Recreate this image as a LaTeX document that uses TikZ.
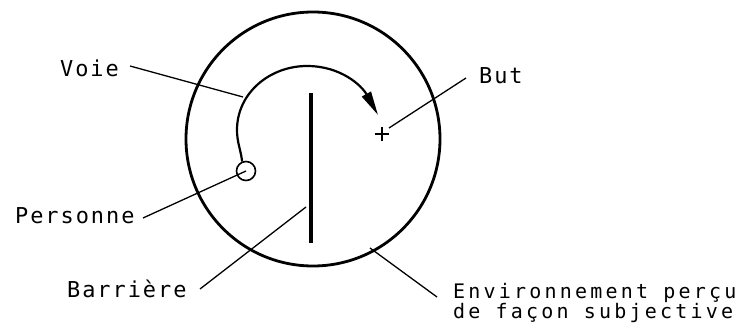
\documentclass[tikz,border=0pt]{standalone}
\usepackage{fontspec}
\newfontfamily\plotA[LetterSpace=9]{DejaVu Sans Mono}
\newfontfamily\plotB[LetterSpace=16]{DejaVu Sans Mono}
\usetikzlibrary{arrows.meta,calc}
\tikzset{
  lblA/.style={inner sep=0pt, anchor=base west, font=\plotA\fontsize{21.9pt}{24pt}\selectfont},
  lblB/.style={inner sep=0pt, anchor=base west, align=left, font=\plotB\fontsize{20pt}{20pt}\selectfont},
  leader/.style={line width=1.3pt},
}
\begin{document}
\begin{tikzpicture}[x=1pt,y=1pt]
\useasboundingbox (0,0) rectangle (742,325);
% environment circle
\draw[line width=2.8pt] (313,186) circle[radius=127];
% barrier
\draw[line width=3.5pt] (311,232) -- (311,82);
% person
\node[draw, circle, line width=1.6pt, minimum size=19pt, inner sep=0pt] (person) at (246,154) {};
% path
\coordinate (left) at (237,195);
\coordinate (top) at (307,259);
\coordinate (tip) at (378,210);
\draw[line width=2.2pt, -{Triangle[length=24pt,width=10pt]}] (person.112) to[out=97,in=270] (left) to[out=90,in=180] (top) to[out=0,in=119] (tip);
% goal
\coordinate (goal) at (382,191);
\draw[line width=1.6pt] ($(goal)+(-7,0)$) -- ($(goal)+(7,0)$) ($(goal)+(0,-7)$) -- ($(goal)+(0,7)$);
% labels
\node[lblA] (voie) at (60,249) {Voie};
\node[lblA] (but) at (479,242) {But};
\node[lblA] (personne) at (15,102) {Personne};
\node[lblA] (barriere) at (67,28) {Barrière};
\node[lblB] (env) at (453,7) {Environnement perçu\\de façon subjective};
% leader ends
\coordinate (voieA) at (130,259);
\coordinate (voieB) at (243,228);
\coordinate (butA) at (466,247);
\coordinate (butB) at (389,197);
\coordinate (persA) at (143,107);
\coordinate (barA) at (200,36);
\coordinate (barB) at (306,118);
\coordinate (envA) at (437,28);
\coordinate (envB) at (370,77);
\draw[leader] (voieA) -- (voieB);
\draw[leader] (butA) -- (butB);
\draw[leader] (persA) -- (person.center);
\draw[leader] (barA) -- (barB);
\draw[leader] (envA) -- (envB);
\end{tikzpicture}
\end{document}
